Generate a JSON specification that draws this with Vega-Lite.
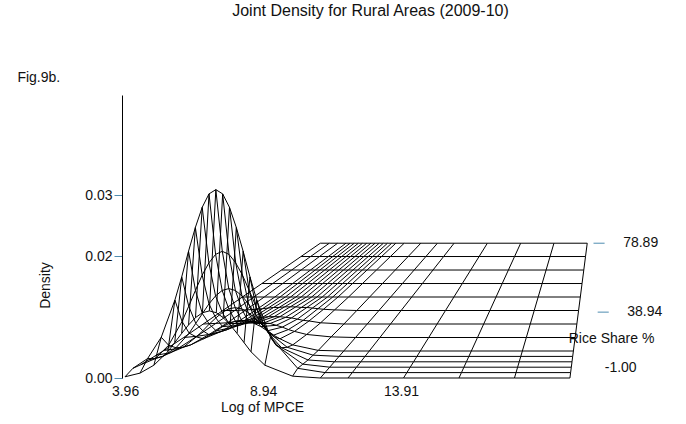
{
  "$schema": "https://vega.github.io/schema/vega-lite/v6.json",
  "width": 545,
  "height": 283,
  "autosize": "none",
  "padding": {"left": 122, "top": 95, "right": 19, "bottom": 46},
  "background": "white",
  "config": {"view": {"stroke": null}, "font": "Liberation Sans"},
  "title": {"text": "Joint Density for Rural Areas (2009-10)", "fontSize": 16, "fontWeight": "normal", "color": "#111", "offset": 52, "dx": -24, "font": "Liberation Sans"},
  "datasets": {
    "surface": [
      {"r": -1, "d": [0.0002,0.0008,0.0021,0.0043,0.0058,0.0073,0.0087,0.0099,0.0107,0.011,0.0107,0.0099,0.0087,0.0073,0.0058,0.0043,0.0021,0.0003,0,0,0,0,0,0]},
      {"r": 2.2, "d": [0.0007,0.0023,0.0058,0.0119,0.0157,0.0199,0.0238,0.0271,0.0293,0.030,0.0293,0.0271,0.0238,0.0199,0.0157,0.0119,0.0058,0.0007,0,0,0,0,0,0]},
      {"r": 5.4, "d": [0.0004,0.0014,0.0036,0.0075,0.01,0.0126,0.0151,0.0171,0.0185,0.019,0.0185,0.0171,0.0151,0.0126,0.01,0.0075,0.0036,0.0005,0,0,0,0,0,0]},
      {"r": 8.6, "d": [0.0003,0.0009,0.0023,0.0047,0.0063,0.0079,0.0095,0.0108,0.0117,0.012,0.0117,0.0108,0.0095,0.0079,0.0063,0.0047,0.0023,0.0003,0,0,0,0,0,0]},
      {"r": 11.8, "d": [0.0002,0.0006,0.0015,0.0032,0.0042,0.0053,0.0063,0.0072,0.0078,0.008,0.0078,0.0072,0.0063,0.0053,0.0042,0.0032,0.0015,0.0002,0,0,0,0,0,0]},
      {"r": 15, "d": [0.0001,0.0004,0.001,0.002,0.0026,0.0033,0.004,0.0045,0.0049,0.005,0.0049,0.0045,0.004,0.0033,0.0026,0.002,0.001,0.0001,0,0,0,0,0,0]},
      {"r": 23, "d": [0,0.0002,0.0005,0.001,0.0013,0.0017,0.002,0.0023,0.0024,0.0025,0.0024,0.0023,0.002,0.0017,0.0013,0.001,0.0005,0.0001,0,0,0,0,0,0]},
      {"r": 31, "d": [0,0.0001,0.0002,0.0005,0.0006,0.0008,0.001,0.0011,0.0012,0.0012,0.0012,0.0011,0.001,0.0008,0.0006,0.0005,0.0002,0,0,0,0,0,0,0]},
      {"r": 39, "d": [0,0,0.0001,0.0002,0.0003,0.0004,0.0005,0.0005,0.0006,0.0006,0.0006,0.0005,0.0005,0.0004,0.0003,0.0002,0.0001,0,0,0,0,0,0,0]},
      {"r": 47, "d": [0,0,0,0,0,0,0,0,0,0,0,0,0,0,0,0,0,0,0,0,0,0,0,0]},
      {"r": 55, "d": [0,0,0,0,0,0,0,0,0,0,0,0,0,0,0,0,0,0,0,0,0,0,0,0]},
      {"r": 63, "d": [0,0,0,0,0,0,0,0,0,0,0,0,0,0,0,0,0,0,0,0,0,0,0,0]},
      {"r": 71, "d": [0,0,0,0,0,0,0,0,0,0,0,0,0,0,0,0,0,0,0,0,0,0,0,0]},
      {"r": 78.89, "d": [0,0,0,0,0,0,0,0,0,0,0,0,0,0,0,0,0,0,0,0,0,0,0,0]}
    ],
    "labels": [
      {"X": 22.55, "Y": 0.0221, "label": "78.89", "tick": true},
      {"X": 22.7, "Y": 0.0108, "label": "38.94", "tick": true},
      {"X": 21.83, "Y": 0.0016, "label": "-1.00", "tick": false},
      {"X": 21.5, "Y": 0.0064, "label": "Rice Share %", "tick": false},
      {"X": 0.85, "Y": 0.0492, "label": "Fig.9b.", "tick": false}
    ]
  },
  "layer": [
    {
      "data": {"name": "surface"},
      "transform": [
        {"calculate": "[3.96,4.5,5,5.5,5.75,6,6.25,6.5,6.75,7,7.25,7.5,7.75,8,8.25,8.5,9,10,11,12,14,16,18,20]", "as": "m"},
        {"flatten": ["m", "d"]},
        {"calculate": "(datum.r + 1) / 79.89", "as": "t"},
        {"calculate": "3.96 + (datum.m - 3.96) * (1 - 0.4 * datum.t) + 7.04 * datum.t", "as": "X"},
        {"calculate": "datum.d + 0.0221 * datum.t", "as": "Y"}
      ],
      "layer": [
        {
          "mark": {"type": "line", "color": "black", "strokeWidth": 1},
          "encoding": {
            "x": {"field": "X", "type": "quantitative", "scale": {"domain": [3.85, 23.5], "nice": false, "zero": false},
              "axis": {"values": [3.96, 8.94, 13.91], "format": ".2f", "domain": false, "ticks": false, "grid": false, "labelFontSize": 14, "labelColor": "#111", "labelPadding": 6, "title": "Log of MPCE", "titleFontSize": 14, "titleFontWeight": "normal", "titleColor": "#111", "titleX": 140, "titleAnchor": "middle", "titlePadding": 2}},
            "y": {"field": "Y", "type": "quantitative", "scale": {"domain": [0, 0.0464], "nice": false},
              "axis": {"values": [0, 0.02, 0.03], "format": ".2f", "grid": false, "domainColor": "black", "tickColor": "#4f8db0", "tickSize": 8, "labelFontSize": 14, "labelColor": "#111", "title": "Density", "titleFontSize": 14, "titleFontWeight": "normal", "titleColor": "#111", "titleY": 190, "titlePadding": 32}},
            "detail": {"field": "r"},
            "order": {"field": "m"}
          }
        },
        {
          "mark": {"type": "line", "color": "black", "strokeWidth": 1},
          "encoding": {
            "x": {"field": "X", "type": "quantitative"},
            "y": {"field": "Y", "type": "quantitative"},
            "detail": {"field": "m"},
            "order": {"field": "r"}
          }
        }
      ]
    },
    {
      "data": {"name": "labels"},
      "layer": [
        {
          "transform": [{"filter": "datum.tick"}, {"calculate": "datum.X - 1.7", "as": "xa"}, {"calculate": "datum.X - 1.3", "as": "xb"}],
          "mark": {"type": "rule", "color": "#4f8db0", "strokeWidth": 1},
          "encoding": {
            "x": {"field": "xa", "type": "quantitative"},
            "x2": {"field": "xb"},
            "y": {"field": "Y", "type": "quantitative"}
          }
        },
        {
          "mark": {"type": "text", "fontSize": 14, "color": "#111", "align": "center", "baseline": "middle"},
          "encoding": {
            "x": {"field": "X", "type": "quantitative"},
            "y": {"field": "Y", "type": "quantitative"},
            "text": {"field": "label"}
          }
        }
      ]
    }
  ]
}
